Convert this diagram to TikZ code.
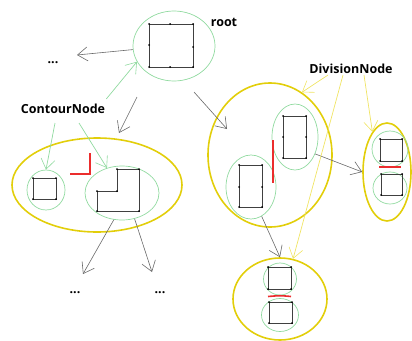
\documentclass[tikz,border=0pt]{standalone}
\usepackage{fontspec}
\setmainfont{Open Sans}
\usetikzlibrary{shapes.geometric,arrows.meta}
\definecolor{cgreen}{RGB}{145,218,160}
\definecolor{cyellow}{RGB}{226,206,10}
\definecolor{clyellow}{RGB}{240,228,100}
\definecolor{cgray}{RGB}{105,105,105}
\definecolor{cred}{RGB}{235,45,45}
\begin{document}
\begin{tikzpicture}[x=1pt,y=-1pt,
  grp/.style={draw=cyellow,line width=1.6pt,ellipse,inner sep=0pt},
  cnt/.style={draw=cgreen,line width=0.7pt,ellipse,inner sep=0pt},
  lbl/.style={font=\bfseries\fontsize{12.5}{14}\selectfont,inner sep=1pt},
  barb/.style={-{Straight Barb[length=10pt,width=14pt,line width=0.6pt]}},
  grayarr/.style={barb,draw=cgray,line width=0.6pt},
  greenarr/.style={barb,draw=cgreen,line width=0.7pt},
  yelarr/.style={barb,draw=clyellow,line width=0.7pt},
  poly/.style={draw=black!75,line width=0.8pt},
  cut/.style={draw=cred,line width=1.6pt},
  pt/.style={fill=black,radius=1pt}]
\useasboundingbox (0,0) rectangle (412,340);

% ---- tree nodes (regions) ----
\node[cnt,minimum width=82pt,minimum height=70pt] (rootE) at (174,46) {};
\node[lbl] (rootlbl) at (224,22) {root};
\node[lbl] (dotsA) at (53,63) {...};
\node[lbl] (contour) at (63,109) {ContourNode};
\node[lbl] (division) at (351,69) {DivisionNode};

\node[grp,minimum width=170pt,minimum height=94pt] (leftY) at (97,185) {};
\node[cnt,minimum width=38pt,minimum height=40pt] (leftA) at (46,190) {};
\node[cnt,minimum width=74pt,minimum height=54pt] (leftB) at (122,193) {};
\node[lbl] (dotsB) at (75,293) {...};
\node[lbl] (dotsC) at (160,293) {...};

\node[grp,minimum width=124pt,minimum height=144pt] (rightY) at (270,155) {};
\node[cnt,minimum width=46pt,minimum height=66pt] (rightU) at (295,137) {};
\node[cnt,minimum width=50pt,minimum height=64pt] (rightL) at (251,187) {};

\node[grp,minimum width=48pt,minimum height=98pt] (farY) at (387,172) {};
\node[cnt,minimum width=36pt,minimum height=36pt] (farU) at (390,149) {};
\node[cnt,minimum width=34pt,minimum height=32pt] (farL) at (390,188) {};

\node[grp,minimum width=94pt,minimum height=82pt] (botY) at (280,299) {};
\node[cnt,minimum width=33pt,minimum height=32pt] (botU) at (280,279) {};
\node[cnt,minimum width=37pt,minimum height=33pt] (botL) at (280,315) {};

% ---- polygons inside the regions ----
\draw[poly] (149,24) rectangle (193,67);
\foreach \p in {(149,24),(170,24),(193,24),(149,45),(193,47),(149,67),(170,67),(193,67)}
  \fill[pt] \p circle;

\draw[poly] (33,178) rectangle (56,199);
\foreach \p in {(33,178),(56,178),(33,199),(56,199)} \fill[pt] \p circle;

\draw[poly] (117,169) -- (139,169) -- (139,211) -- (97,211) -- (97,191) -- (117,191) -- cycle;
\foreach \p in {(117,169),(139,169),(139,211),(97,211),(97,191),(117,191)} \fill[pt] \p circle;

\draw[poly] (283,116) rectangle (306,158);
\foreach \p in {(283,116),(306,116),(283,137),(306,137),(283,158),(306,158)} \fill[pt] \p circle;

\draw[poly] (239,165) rectangle (262,207);
\foreach \p in {(239,165),(262,165),(239,187),(262,187),(239,207),(262,207)} \fill[pt] \p circle;

\draw[poly] (380,139) rectangle (402,161);
\foreach \p in {(380,139),(402,139),(380,161),(402,161)} \fill[pt] \p circle;
\draw[poly] (381,174) rectangle (402,195);
\foreach \p in {(381,174),(402,174),(381,195),(402,195)} \fill[pt] \p circle;

\draw[poly] (268,267) rectangle (291,289);
\foreach \p in {(268,267),(291,267),(268,289),(291,289)} \fill[pt] \p circle;
\draw[poly] (269,302) rectangle (292,323);
\foreach \p in {(269,302),(292,302),(269,323),(292,323)} \fill[pt] \p circle;

% ---- cut lines ----
\draw[cut] (90,153) -- (90,174) -- (70,174);
\draw[cut] (273,140) -- (273,183);
\draw[cut] (379,167) -- (401,167);
\draw[cut] (268,296.5) .. controls (280,295.5) .. (291,296.5);

% ---- free ends of connectors ----
\coordinate (tipA) at (77,55);
\coordinate (srcL) at (137,97);
\coordinate (tipL) at (119,133);
\coordinate (srcR) at (194,92);
\coordinate (tipR) at (227,129);
\coordinate (tipB) at (83,274);
\coordinate (tipC) at (152,272);

% ---- grey tree edges ----
\draw[grayarr] (rootE.185) -- (tipA);
\draw[grayarr] (srcL) -- (tipL);
\draw[grayarr] (srcR) -- (tipR);
\draw[grayarr] (leftB.253) -- (tipB);
\draw[grayarr] (leftB.296) -- (tipC);
\draw[grayarr] (rightU.-40) -- (farY.west);
\draw[grayarr] (rightL.-70) -- (botY.north);

% ---- label pointers ----
\draw[greenarr] ([yshift=4pt]contour.north east) -- (rootE.203);
\draw[greenarr] ([xshift=-8pt,yshift=-8pt]contour.south) -- (leftA.north);
\draw[greenarr] ([xshift=16pt,yshift=-8pt]contour.south) -- (leftB.121);
\draw[yelarr] ([xshift=-23pt]division.south) -- (rightY.63);
\draw[yelarr] ([xshift=-8pt]division.south) -- (botY.72);
\draw[yelarr] ([xshift=13pt]division.south) -- (farY.110);
\end{tikzpicture}
\end{document}
